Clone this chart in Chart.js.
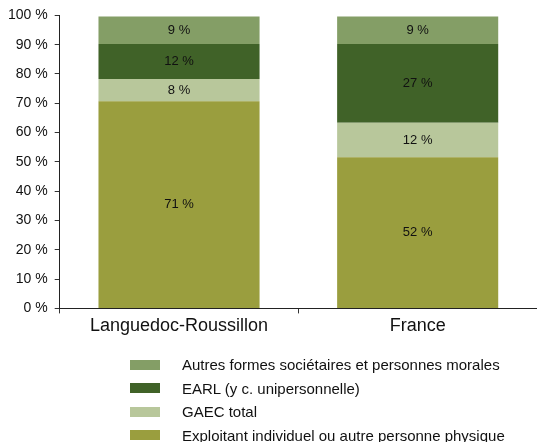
<!DOCTYPE html>
<html>
<head>
<meta charset="utf-8">
<script src="https://cdn.jsdelivr.net/npm/chart.js@4/dist/chart.umd.min.js"></script>
<style>
  html, body { margin: 0; padding: 0; background: #fff; }
  .wrap { position: relative; width: 537px; height: 442px; overflow: hidden; }
  canvas { position: absolute; left: 0; top: 0; }
  .legend { position: absolute; left: 130px; top: 353px; font-family: "Liberation Sans", Arial, sans-serif; font-size: 15px; color: #111; }
  .legend div { height: 23.5px; display: flex; align-items: center; white-space: nowrap; }
  .legend span.box { display: inline-block; width: 30px; height: 10px; margin-right: 22px; }
</style>
</head>
<body>
<div class="wrap">
  <canvas id="chart" width="537" height="442"></canvas>
  <div class="legend" id="legend"></div>
</div>
<script>
const categories = ['Languedoc-Roussillon', 'France'];
const exploitant = [70.7, 51.6];
const gaec = [7.6, 11.8];
const earl = [11.9, 26.8];
const autres = [9.4, 9.4];
const yTicks = [0, 10, 20, 30, 40, 50, 60, 70, 80, 90, 100];

const series = [
  { label: 'Exploitant individuel ou autre personne physique', data: exploitant, color: '#9a9e3e' },
  { label: 'GAEC total', data: gaec, color: '#b8c79b' },
  { label: 'EARL (y c. unipersonnelle)', data: earl, color: '#406228' },
  { label: 'Autres formes sociétaires et personnes morales', data: autres, color: '#849e66' },
];

// étiquettes de valeurs au centre des segments
const valueLabels = {
  id: 'valueLabels',
  afterDatasetsDraw(chart) {
    const ctx = chart.ctx;
    ctx.save();
    ctx.font = '13px "Liberation Sans", Arial, sans-serif';
    ctx.fillStyle = '#111';
    ctx.textAlign = 'center';
    ctx.textBaseline = 'middle';
    chart.data.datasets.forEach((ds, i) => {
      chart.getDatasetMeta(i).data.forEach((bar, j) => {
        const mid = (bar.y + bar.base) / 2;
        ctx.fillText(Math.round(ds.data[j]) + ' %', bar.x, mid);
      });
    });
    ctx.restore();
  }
};

new Chart(document.getElementById('chart'), {
  type: 'bar',
  data: {
    labels: categories,
    datasets: series.map(s => ({
      label: s.label,
      data: s.data,
      backgroundColor: s.color,
      borderWidth: 0,
      barPercentage: 0.675,
      categoryPercentage: 1,
    })),
  },
  options: {
    responsive: false,
    animation: false,
    layout: { padding: { top: 7, left: 1, right: 0, bottom: 103 } },
    plugins: { legend: { display: false }, tooltip: { enabled: false } },
    scales: {
      x: {
        stacked: true,
        grid: { offset: true, drawOnChartArea: false, tickLength: 5, color: '#333' },
        border: { color: '#222', width: 1 },
        ticks: { color: '#111', font: { family: '"Liberation Sans", Arial, sans-serif', size: 18 }, padding: 2 },
      },
      y: {
        stacked: true,
        min: 0,
        max: 100,
        afterBuildTicks: axis => { axis.ticks = yTicks.map(v => ({ value: v })); },
        grid: { drawOnChartArea: false, tickLength: 5, color: '#333' },
        border: { color: '#222', width: 1 },
        ticks: {
          color: '#111',
          font: { family: '"Liberation Sans", Arial, sans-serif', size: 14 },
          padding: 7,
          callback: v => v + ' %',
        },
      },
    },
  },
  plugins: [valueLabels],
});

const legend = document.getElementById('legend');
series.slice().reverse().forEach(s => {
  const row = document.createElement('div');
  row.innerHTML = '<span class="box" style="background:' + s.color + '"></span>' + s.label;
  legend.appendChild(row);
});
</script>
</body>
</html>
